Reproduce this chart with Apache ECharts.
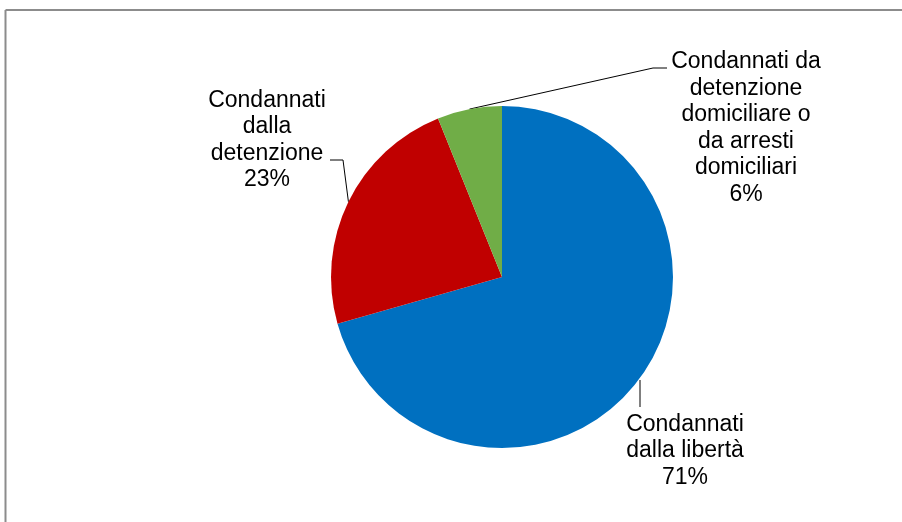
<!DOCTYPE html>
<html>
<head>
<meta charset="utf-8">
<script src="https://cdn.jsdelivr.net/npm/echarts@6/dist/echarts.min.js"></script>
<style>
html,body{margin:0;padding:0;background:#fff;}
#c{width:902px;height:522px;}
</style>
</head>
<body>
<div id="c"></div>
<script>
// Data
var categories = ['Condannati dalla libertà', 'Condannati dalla detenzione', 'Condannati da detenzione domiciliare o da arresti domiciliari'];
var values = [70.6, 23.3, 6.1];
var labelTexts = ['Condannati\ndalla libertà', 'Condannati\ndalla\ndetenzione', 'Condannati da\ndetenzione\ndomiciliare o\nda arresti\ndomiciliari'];
var colors = ['#0070C0', '#C00000', '#70AD47'];

// Label placement (layout only)
var labelPos = [
  {x: 685, y: 451},
  {x: 267, y: 140},
  {x: 746, y: 128}
];

var chart = echarts.init(document.getElementById('c'), null, {renderer: 'canvas'});
var data = categories.map(function (c, i) {
  return {name: c, value: values[i], itemStyle: {color: colors[i]}};
});

chart.setOption({
  animation: false,
  graphic: [
    {type: 'line', shape: {x1: 5.5, y1: 10, x2: 902, y2: 10}, style: {stroke: '#8c8c8c', lineWidth: 2}},
    {type: 'line', shape: {x1: 5.5, y1: 10, x2: 5.5, y2: 522}, style: {stroke: '#8c8c8c', lineWidth: 2}}
  ],
  series: [{
    type: 'pie',
    center: [502, 277],
    radius: 171,
    startAngle: 90,
    clockwise: true,
    data: data,
    itemStyle: {borderWidth: 0},
    label: {
      show: true,
      position: 'outside',
      color: '#000',
      fontFamily: 'Liberation Sans, Arial, sans-serif',
      fontSize: 23,
      lineHeight: 26.5,
      align: 'center',
      formatter: function (p) {
        return labelTexts[p.dataIndex] + '\n' + Math.round(p.percent) + '%';
      }
    },
    labelLine: {
      show: true,
      length: 10,
      length2: 10,
      lineStyle: {color: '#000', width: 1}
    },
    labelLayout: function (params) {
      var i = params.dataIndex;
      var a = params.labelLinePoints ? params.labelLinePoints[0] : null;
      var pos = labelPos[i];
      var pts;
      if (i === 0) {
        pts = [[640, 380], [640, 407]];
      } else if (i === 1) {
        pts = [a ? a : [349, 200], [343, 160], [330, 160]];
      } else {
        pts = [a ? a : [469, 110], [653, 68], [667, 68]];
      }
      return {
        x: pos.x,
        y: pos.y,
        align: 'center',
        verticalAlign: 'middle',
        labelLinePoints: pts
      };
    }
  }]
});
</script>
</body>
</html>
